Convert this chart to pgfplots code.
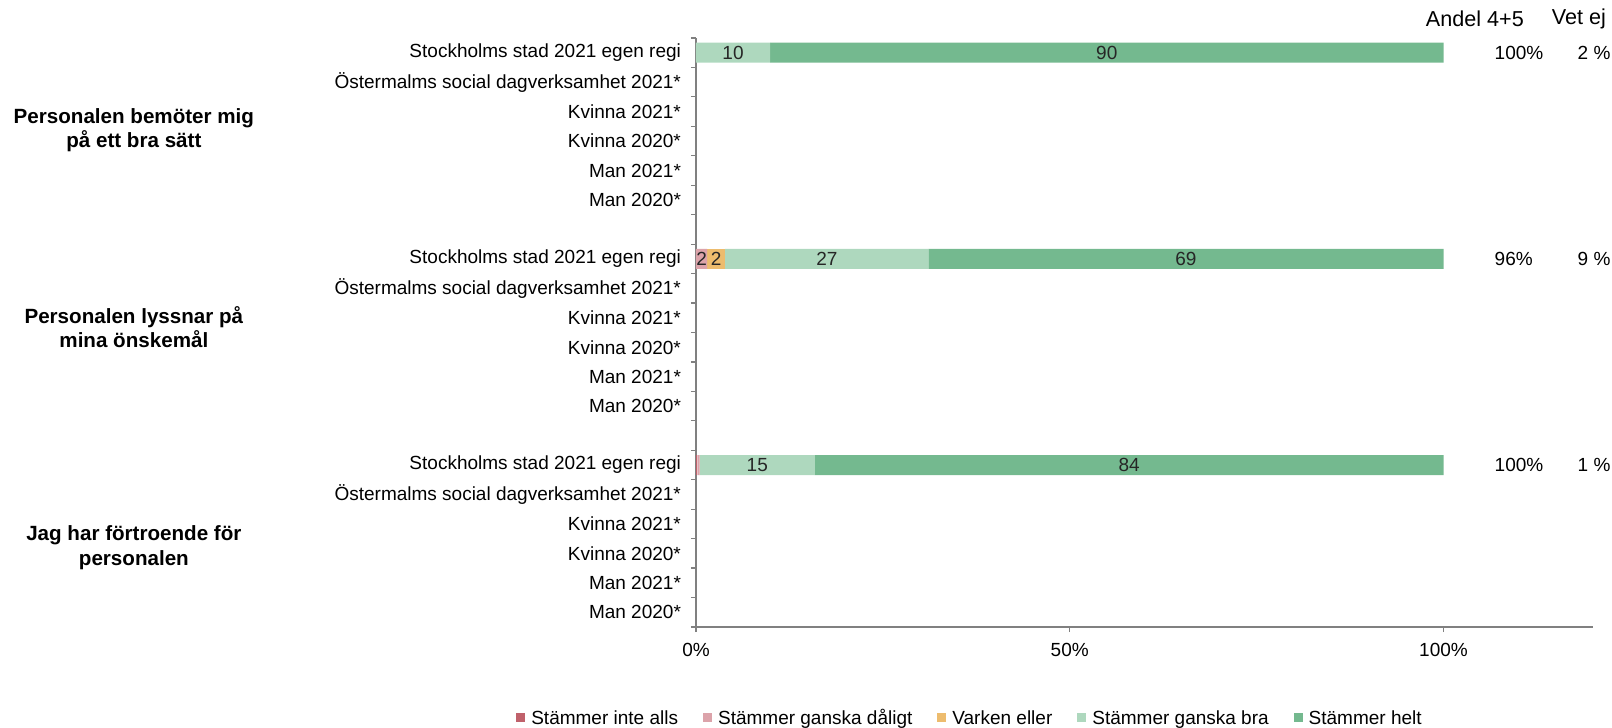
\documentclass[border=0pt]{standalone}
\usepackage{pgfplots}
\pgfplotsset{compat=1.18}
\usepackage{pgfplotstable}
\usepackage{fontspec}
\setmainfont{Liberation Sans}
\definecolor{cA}{HTML}{C0616B}
\definecolor{cB}{HTML}{DCA3AA}
\definecolor{cC}{HTML}{EDBC6E}
\definecolor{cD}{HTML}{AED8BE}
\definecolor{cE}{HTML}{74B98F}
\definecolor{axc}{HTML}{808080}
\pgfplotstableread{
y  a    b    c    d     e
19 0    0    0    9.9   90.1
12 0    1.5  2.4  27.2  68.9
5  0.2  0.3  0    15.4  84.1
}\datatable
\newcommand{\nf}{\fontsize{9.5}{11}\selectfont}
\newcommand{\hf}{\fontsize{10.8}{12}\selectfont}
\newcommand{\bfn}{\bfseries\fontsize{10.3}{12.2}\selectfont}
\pgfplotsset{
  common/.style={
    at={(348pt,50.5pt)}, anchor=south west,
    scale only axis, width=448.5pt, height=294.5pt,
    xmin=0, xmax=120, ymin=-0.5, ymax=19.5,
    clip=false,
  },
  lab/.style={draw=none, mark=none, unbounded coords=discard,
    nodes near coords={\pgfmathprintnumber[fixed,precision=0]{\pgfplotspointmeta}},
    nodes near coords align=center,
    every node near coord/.append style={font=\nf, text=black!85, inner sep=0pt},
  },
}
\begin{document}
\begin{tikzpicture}[font=\nf]
\useasboundingbox (0,0) rectangle (806pt,364pt);
\begin{axis}[common,
  xbar stacked, bar width=10pt,
  axis x line*=bottom, axis y line*=left,
  axis line style={axc, line width=0.6pt, -},
  xtick={0,50,100}, xticklabels={0\%,50\%,100\%},
  minor xtick={0,50,100},
  ytick={0,1,2,3,4,5,7,8,9,10,11,12,14,15,16,17,18,19},
  yticklabels={Man 2020*,Man 2021*,Kvinna 2020*,Kvinna 2021*,Östermalms social dagverksamhet 2021*,Stockholms stad 2021 egen regi,
               Man 2020*,Man 2021*,Kvinna 2020*,Kvinna 2021*,Östermalms social dagverksamhet 2021*,Stockholms stad 2021 egen regi,
               Man 2020*,Man 2021*,Kvinna 2020*,Kvinna 2021*,Östermalms social dagverksamhet 2021*,Stockholms stad 2021 egen regi},
  minor ytick={-0.5,0.5,...,19.5},
  major tick length=0pt, minor tick length=2.5pt,
  tick align=outside,
  minor tick style={axc, line width=0.6pt},
  tick label style={font=\nf, text=black},
  yticklabel style={xshift=-4pt},
  xticklabel style={yshift=-4.5pt},
  legend style={at={(0.3066,-0.1545)}, anchor=center, draw=none, fill=none,
    legend columns=-1, font=\nf,
    nodes={text height=1.6ex, text depth=0.4ex},
    /tikz/every odd column/.append style={column sep=1pt},
    /tikz/every even column/.append style={column sep=10.5pt}},
  legend image code/.code={\fill[#1] (0pt,-2.25pt) rectangle (4.5pt,2.25pt);},
]
\addplot[fill=cA, draw=none] table[x=a, y=y] \datatable;
\addplot[fill=cB, draw=none] table[x=b, y=y] \datatable;
\addplot[fill=cC, draw=none] table[x=c, y=y] \datatable;
\addplot[fill=cD, draw=none] table[x=d, y=y] \datatable;
\addplot[fill=cE, draw=none] table[x=e, y=y] \datatable;
\legend{Stämmer inte alls,Stämmer ganska dåligt,Varken eller,Stämmer ganska bra,Stämmer helt}

\node[font=\bfn, align=center] at (axis cs:-75.2,16.37) {Personalen bemöter mig\\på ett bra sätt};
\node[font=\bfn, align=center] at (axis cs:-75.2,9.68) {Personalen lyssnar på\\mina önskemål};
\node[font=\bfn, align=center] at (axis cs:-75.2,2.19) {Jag har förtroende för\\personalen};

\node[font=\hf] at (axis cs:104.2,20.14) {Andel 4+5};
\node[font=\hf] at (axis cs:118.1,20.14) {Vet ej};
\node[font=\nf, anchor=west, inner sep=0pt] at (axis cs:106.8,19) {100\%};
\node[font=\nf, anchor=west, inner sep=0pt] at (axis cs:106.8,12) {96\%};
\node[font=\nf, anchor=west, inner sep=0pt] at (axis cs:106.8,5) {100\%};
\node[font=\nf, anchor=west, inner sep=0pt] at (axis cs:117.9,19) {2 \%};
\node[font=\nf, anchor=west, inner sep=0pt] at (axis cs:117.9,12) {9 \%};
\node[font=\nf, anchor=west, inner sep=0pt] at (axis cs:117.9,5) {1 \%};
\end{axis}
\begin{axis}[common, hide axis, /pgf/number format/assume math mode=true]
\addplot[lab, point meta={\thisrow{a}}, restrict expr to domain={\thisrow{a}}{1:1000}]
  table[x expr={0.5*\thisrow{a}}, y=y] \datatable;
\addplot[lab, point meta={\thisrow{b}}, restrict expr to domain={\thisrow{b}}{1:1000}]
  table[x expr={\thisrow{a}+0.5*\thisrow{b}}, y=y] \datatable;
\addplot[lab, point meta={\thisrow{c}}, restrict expr to domain={\thisrow{c}}{1:1000}]
  table[x expr={\thisrow{a}+\thisrow{b}+0.5*\thisrow{c}}, y=y] \datatable;
\addplot[lab, point meta={\thisrow{d}}, restrict expr to domain={\thisrow{d}}{1:1000}]
  table[x expr={\thisrow{a}+\thisrow{b}+\thisrow{c}+0.5*\thisrow{d}}, y=y] \datatable;
\addplot[lab, point meta={\thisrow{e}}, restrict expr to domain={\thisrow{e}}{1:1000}]
  table[x expr={\thisrow{a}+\thisrow{b}+\thisrow{c}+\thisrow{d}+0.5*\thisrow{e}}, y=y] \datatable;
\end{axis}
\end{tikzpicture}
\end{document}
